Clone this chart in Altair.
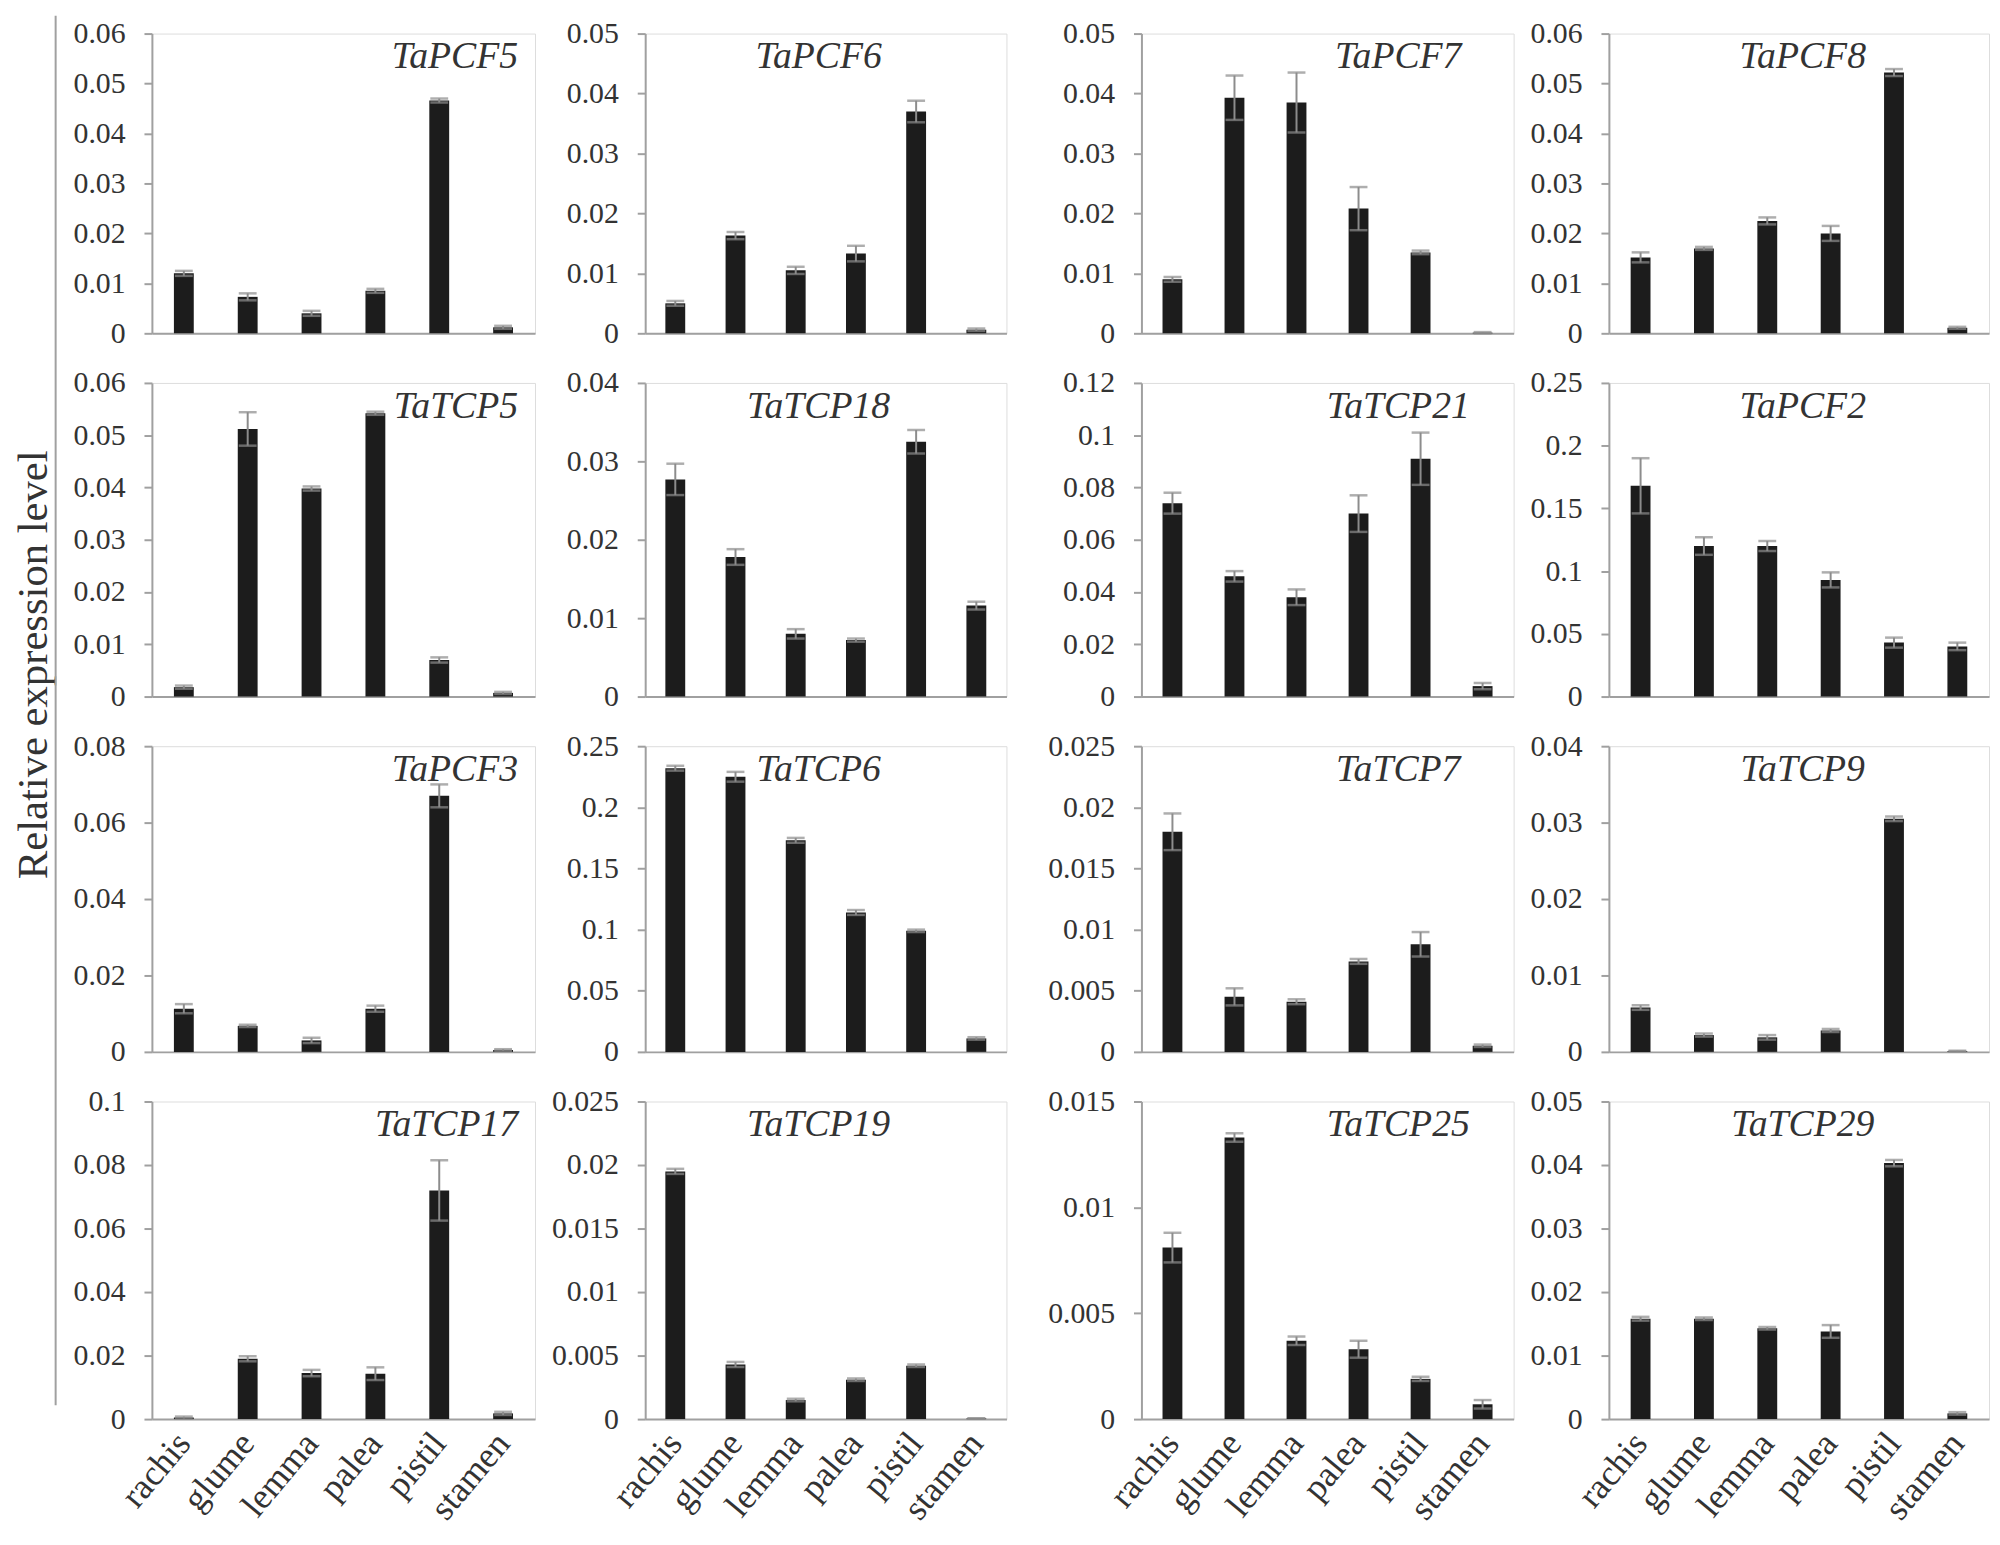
import altair as alt
import pandas as pd

tissues = ["rachis", "glume", "lemma", "palea", "pistil", "stamen"]

genes = ["TaPCF5", "TaPCF6", "TaPCF7", "TaPCF8",
         "TaTCP5", "TaTCP18", "TaTCP21", "TaPCF2",
         "TaPCF3", "TaTCP6", "TaTCP7", "TaTCP9",
         "TaTCP17", "TaTCP19", "TaTCP25", "TaTCP29"]

y_max = [0.06, 0.05, 0.05, 0.06,
         0.06, 0.04, 0.12, 0.25,
         0.08, 0.25, 0.025, 0.04,
         0.1, 0.025, 0.015, 0.05]

y_step = [0.01, 0.01, 0.01, 0.01,
          0.01, 0.01, 0.02, 0.05,
          0.02, 0.05, 0.005, 0.01,
          0.02, 0.005, 0.005, 0.01]

values = {
    "TaPCF5": [0.0120, 0.0073, 0.0040, 0.0085, 0.0466, 0.0012],
    "TaPCF6": [0.0050, 0.0163, 0.0105, 0.0133, 0.0370, 0.0006],
    "TaPCF7": [0.0090, 0.0393, 0.0385, 0.0208, 0.0135, 0.0001],
    "TaPCF8": [0.0152, 0.0170, 0.0225, 0.0200, 0.0522, 0.0011],
    "TaTCP5": [0.0018, 0.0512, 0.0398, 0.0542, 0.0070, 0.0007],
    "TaTCP18": [0.0277, 0.0178, 0.0080, 0.0072, 0.0325, 0.0116],
    "TaTCP21": [0.074, 0.046, 0.038, 0.070, 0.091, 0.004],
    "TaPCF2": [0.168, 0.120, 0.120, 0.093, 0.043, 0.040],
    "TaPCF3": [0.0113, 0.0068, 0.0030, 0.0113, 0.0670, 0.0005],
    "TaTCP6": [0.232, 0.225, 0.173, 0.114, 0.099, 0.011],
    "TaTCP7": [0.0180, 0.0045, 0.0041, 0.0074, 0.0088, 0.0005],
    "TaTCP9": [0.0058, 0.0022, 0.0019, 0.0028, 0.0305, 0.0001],
    "TaTCP17": [0.0005, 0.0190, 0.0145, 0.0143, 0.0720, 0.0018],
    "TaTCP19": [0.0195, 0.0043, 0.0015, 0.0031, 0.0042, 0.00005],
    "TaTCP25": [0.0081, 0.0133, 0.0037, 0.0033, 0.0019, 0.0007],
    "TaTCP29": [0.0158, 0.0158, 0.0143, 0.0138, 0.0403, 0.0009],
}

errors = {
    "TaPCF5": [0.0005, 0.0007, 0.0005, 0.0004, 0.0004, 0.0003],
    "TaPCF6": [0.0004, 0.0006, 0.0006, 0.0013, 0.0018, 0.0002],
    "TaPCF7": [0.0004, 0.0037, 0.0050, 0.0036, 0.0003, 0.0001],
    "TaPCF8": [0.0010, 0.0003, 0.0007, 0.0015, 0.0007, 0.0002],
    "TaTCP5": [0.0003, 0.0032, 0.0004, 0.0003, 0.0005, 0.0002],
    "TaTCP18": [0.0020, 0.0010, 0.0006, 0.0002, 0.0015, 0.0005],
    "TaTCP21": [0.004, 0.002, 0.003, 0.007, 0.010, 0.0012],
    "TaPCF2": [0.022, 0.007, 0.004, 0.006, 0.004, 0.003],
    "TaPCF3": [0.0012, 0.0003, 0.0007, 0.0008, 0.0030, 0.0002],
    "TaTCP6": [0.002, 0.004, 0.002, 0.002, 0.001, 0.001],
    "TaTCP7": [0.0015, 0.0007, 0.0002, 0.0002, 0.0010, 0.0001],
    "TaTCP9": [0.0003, 0.0002, 0.0003, 0.0002, 0.0003, 0.00005],
    "TaTCP17": [0.0003, 0.0008, 0.0010, 0.0020, 0.0095, 0.0005],
    "TaTCP19": [0.0002, 0.0002, 0.0001, 0.0001, 0.0001, 0.00002],
    "TaTCP25": [0.0007, 0.0002, 0.0002, 0.0004, 0.0001, 0.0002],
    "TaTCP29": [0.0003, 0.0002, 0.0002, 0.0010, 0.0005, 0.0002],
}

y_title = "Relative expression level"

FONT = "Liberation Serif"
TEXT = "#333333"
GRAY = "#a0a0a0"
ERR = "#8c8c8c"
BAR = "#1c1c1c"

col_widths = [386, 364, 375, 383]
row_heights = [302, 316, 308, 320]
# title placement per column: (align, fraction of width)
title_place = [("right", None), ("center", 0.48), ("center", 0.69), ("center", 0.51)]


def panel(i, gene):
    col = i % 4
    row = i // 4
    w = col_widths[col]
    bottom = row == 3
    df = pd.DataFrame({"tissue": tissues, "value": values[gene], "err": errors[gene]})
    df["lo"] = (df["value"] - df["err"]).clip(lower=0)
    df["hi"] = df["value"] + df["err"]

    n = int(round(y_max[i] / y_step[i]))
    ticks = [round(k * y_step[i], 6) for k in range(n + 1)]

    x_axis = alt.Axis(
        title=None, ticks=False, labels=bottom, labelAngle=-50,
        labelFont=FONT, labelFontSize=36,
        labelColor=TEXT, labelPadding=18, domainColor=GRAY, domainWidth=2,
    )
    y_axis = alt.Axis(
        title=None, values=ticks, labelExpr="datum.value + ''", grid=False,
        tickSize=8, tickColor=GRAY, tickWidth=2, domainColor=GRAY, domainWidth=2,
        labelFont=FONT, labelFontSize=30, labelColor=TEXT, labelPadding=19,
    )
    x = alt.X("tissue:N", sort=tissues, axis=x_axis,
              scale=alt.Scale(paddingInner=0, paddingOuter=0))
    yscale = alt.Scale(domain=[0, y_max[i]], nice=False)

    base = alt.Chart(df)
    bars = base.mark_bar(size=20, color=BAR).encode(
        x=x, y=alt.Y("value:Q", scale=yscale, axis=y_axis))
    rule = base.mark_rule(color=ERR, strokeWidth=2).encode(
        x=alt.X("tissue:N", sort=tissues), y="lo:Q", y2="hi:Q")
    cap_hi = base.mark_tick(color=ERR, size=18, thickness=2.5).encode(
        x=alt.X("tissue:N", sort=tissues), y="hi:Q")
    cap_lo = base.mark_tick(color=ERR, size=18, thickness=2.5).encode(
        x=alt.X("tissue:N", sort=tissues), y="lo:Q")

    align, frac = title_place[col]
    tx = w - 17 if frac is None else w * frac
    title = alt.Chart(pd.DataFrame({"gene": [gene]})).mark_text(
        font=FONT, fontSize=38, fontStyle="italic", color=TEXT,
        align=align, baseline="middle").encode(
        text="gene:N", x=alt.value(tx), y=alt.value(24))

    return alt.layer(bars, rule, cap_lo, cap_hi, title).properties(
        width=w, height=row_heights[row])


panels = [panel(i, g) for i, g in enumerate(genes)]
columns = [alt.vconcat(*[panels[r * 4 + c] for r in range(4)], spacing=18)
           for c in range(4)]

spacer = alt.Chart(pd.DataFrame({"t": [""]})).mark_text().encode(
    text="t:N", x=alt.value(0), y=alt.value(0)
).properties(width=8, height=300, view=alt.ViewBackground(stroke="transparent"))

left = alt.layer(
    alt.Chart(pd.DataFrame({"t": [y_title]})).mark_text(
        font=FONT, fontSize=43, color=TEXT, angle=270,
        align="center", baseline="middle").encode(
        text="t:N", x=alt.value(25), y=alt.value(636)),
    alt.Chart(pd.DataFrame({"t": [y_title]})).mark_rule(
        color=GRAY, strokeWidth=2).encode(
        x=alt.value(47), y=alt.value(-18), y2=alt.value(1382)),
).properties(width=46, height=1380, view=alt.ViewBackground(stroke="transparent"))

chart = alt.hconcat(left, columns[0], columns[1], spacer, columns[2], columns[3],
                    spacing=15).properties(
    padding={"left": 0, "top": 0, "right": 2, "bottom": 2}
).configure_view(stroke=GRAY, strokeWidth=2).configure(background="white")

chart.save("out.html", embed_options={"renderer": "svg", "actions": False})
